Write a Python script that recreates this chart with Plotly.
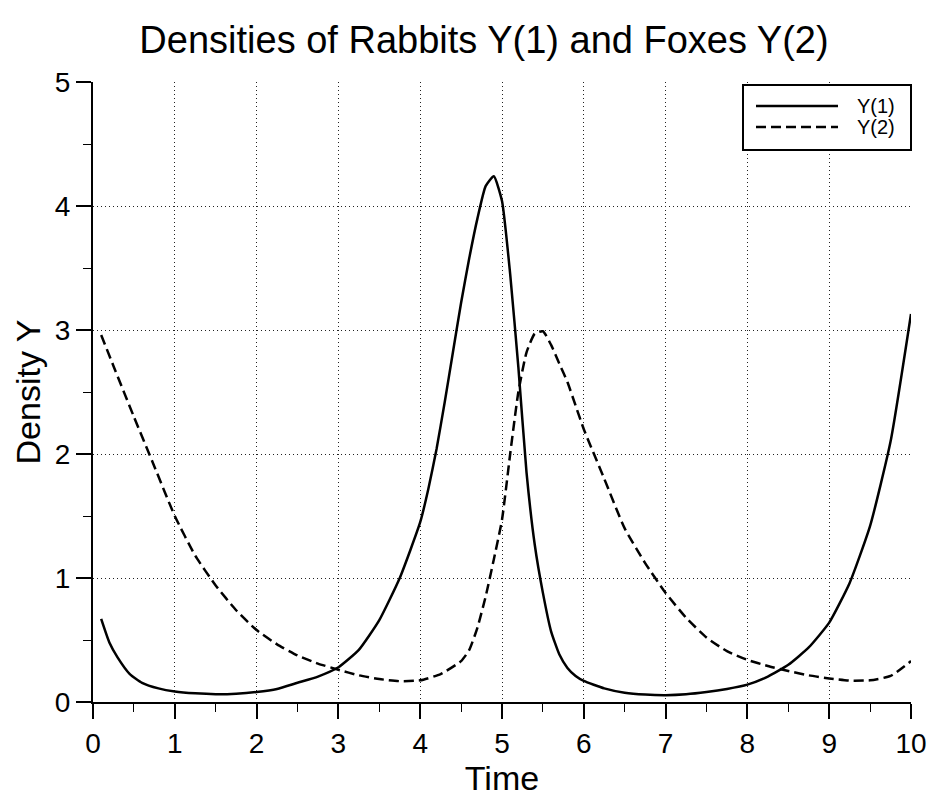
import plotly.graph_objects as go

# Rabbits Y(1)
t1 = [0.1, 0.2, 0.3, 0.45, 0.6, 0.8, 1.0, 1.25, 1.5, 1.75, 2.0, 2.25, 2.5, 2.75,
      3.0, 3.25, 3.5, 3.75, 4.0, 4.1, 4.2, 4.3, 4.4, 4.5, 4.6, 4.7, 4.8, 4.9, 5.0,
      5.1, 5.2, 5.3, 5.4, 5.5, 5.6, 5.7, 5.8, 5.9, 6.0, 6.25, 6.5, 6.75, 7.0, 7.25,
      7.5, 7.75, 8.0, 8.25, 8.5, 8.75, 9.0, 9.25, 9.5, 9.75, 10.0]
y1 = [0.67, 0.48, 0.36, 0.225, 0.155, 0.11, 0.085, 0.07, 0.063, 0.067, 0.081, 0.105,
      0.155, 0.205, 0.28, 0.42, 0.66, 1.0, 1.45, 1.72, 2.04, 2.42, 2.82, 3.22, 3.58,
      3.9, 4.16, 4.24, 4.04, 3.45, 2.7, 1.85, 1.27, 0.88, 0.57, 0.385, 0.275, 0.21,
      0.17, 0.11, 0.075, 0.06, 0.055, 0.062, 0.08, 0.105, 0.14, 0.205, 0.3, 0.44,
      0.64, 0.96, 1.42, 2.1, 3.13]

# Foxes Y(2)
t2 = [0.1, 0.25, 0.5, 0.75, 1.0, 1.25, 1.5, 1.75, 2.0, 2.25, 2.5, 2.75, 3.0, 3.25,
      3.5, 3.75, 4.0, 4.25, 4.5, 4.6, 4.7, 4.8, 4.9, 5.0, 5.1, 5.2, 5.3, 5.4, 5.5,
      5.6, 5.7, 5.8, 5.9, 6.0, 6.25, 6.5, 6.75, 7.0, 7.25, 7.5, 7.75, 8.0, 8.25, 8.5,
      8.75, 9.0, 9.25, 9.5, 9.75, 10.0]
y2 = [2.96, 2.71, 2.3, 1.9, 1.5, 1.18, 0.94, 0.74, 0.58, 0.465, 0.375, 0.31, 0.26,
      0.215, 0.185, 0.168, 0.175, 0.225, 0.33, 0.42, 0.6, 0.85, 1.15, 1.47, 2.0, 2.5,
      2.82, 2.97, 2.99, 2.88, 2.73, 2.58, 2.39, 2.2, 1.8, 1.4, 1.12, 0.88, 0.68, 0.52,
      0.41, 0.34, 0.29, 0.25, 0.215, 0.19, 0.172, 0.175, 0.21, 0.33]

series_names = ["Y(1)", "Y(2)"]
x_ticks = [0, 1, 2, 3, 4, 5, 6, 7, 8, 9, 10]
y_ticks = [0, 1, 2, 3, 4, 5]

FONT = "Liberation Sans, Arial, Helvetica, sans-serif"
DASH = "10px,5px"

fig = go.Figure()
fig.add_trace(go.Scatter(x=t1, y=y1, mode="lines", name=series_names[0],
                         line=dict(color="black", width=2.5, shape="spline", smoothing=0.5)))
fig.add_trace(go.Scatter(x=t2, y=y2, mode="lines", name=series_names[1],
                         line=dict(color="black", width=2.5, dash=DASH,
                                   shape="spline", smoothing=0.5)))

axis_common = dict(
    showline=True, linecolor="black", linewidth=2,
    ticks="outside", ticklen=15, tickwidth=1.5, tickcolor="black",
    showgrid=True, gridcolor="#222", gridwidth=1, griddash="1px,3px",
    zeroline=False, mirror=False, automargin=False,
    minor=dict(ticks="outside", ticklen=8, tickwidth=1.2, tickcolor="black",
               dtick=0.5, showgrid=False),
    tickfont=dict(family=FONT, size=28, color="black"),
)

fig.update_xaxes(range=[0, 10], tickvals=x_ticks, ticktext=[str(v) for v in x_ticks],
                 title=dict(text="Time", font=dict(family=FONT, size=34, color="black"),
                            standoff=2),
                 **axis_common)
fig.update_yaxes(range=[0, 5], tickvals=y_ticks, ticktext=[str(v) for v in y_ticks],
                 title=dict(text="Density Y", font=dict(family=FONT, size=34, color="black"),
                            standoff=4),
                 **axis_common)

# Legend box drawn in axis-domain coordinates (plot area: 818 x 620 px)
L, R, T, B = 93, 911, 82, 702
W, H = R - L, B - T
def px_x(p):
    return (p - L) / W
def px_y(p):
    return (B - p) / H

shapes = [
    dict(type="rect", xref="x domain", yref="y domain",
         x0=px_x(743), x1=px_x(911), y0=px_y(150), y1=px_y(85),
         line=dict(color="black", width=2), fillcolor="white", layer="above"),
    dict(type="line", xref="x domain", yref="y domain",
         x0=px_x(756), x1=px_x(838), y0=px_y(106), y1=px_y(106),
         line=dict(color="black", width=2.5)),
    dict(type="line", xref="x domain", yref="y domain",
         x0=px_x(756), x1=px_x(838), y0=px_y(127), y1=px_y(127),
         line=dict(color="black", width=2.5, dash=DASH)),
]
annotations = [
    dict(text=series_names[0], xref="x domain", yref="y domain", x=px_x(855), y=px_y(106),
         xanchor="left", yanchor="middle", showarrow=False,
         font=dict(family=FONT, size=20, color="black")),
    dict(text=series_names[1], xref="x domain", yref="y domain", x=px_x(855), y=px_y(127),
         xanchor="left", yanchor="middle", showarrow=False,
         font=dict(family=FONT, size=20, color="black")),
]

fig.update_layout(
    width=932, height=800,
    margin=dict(l=L, r=932 - R, t=T, b=800 - B, autoexpand=False),
    paper_bgcolor="white", plot_bgcolor="white",
    title=dict(text="Densities of Rabbits Y(1) and Foxes Y(2)",
               font=dict(family=FONT, size=38, color="black"),
               x=484 / 932, xanchor="center", y=1 - 40 / 800, yanchor="middle"),
    showlegend=False,
    shapes=shapes,
    annotations=annotations,
)

fig.write_html("out.html")
